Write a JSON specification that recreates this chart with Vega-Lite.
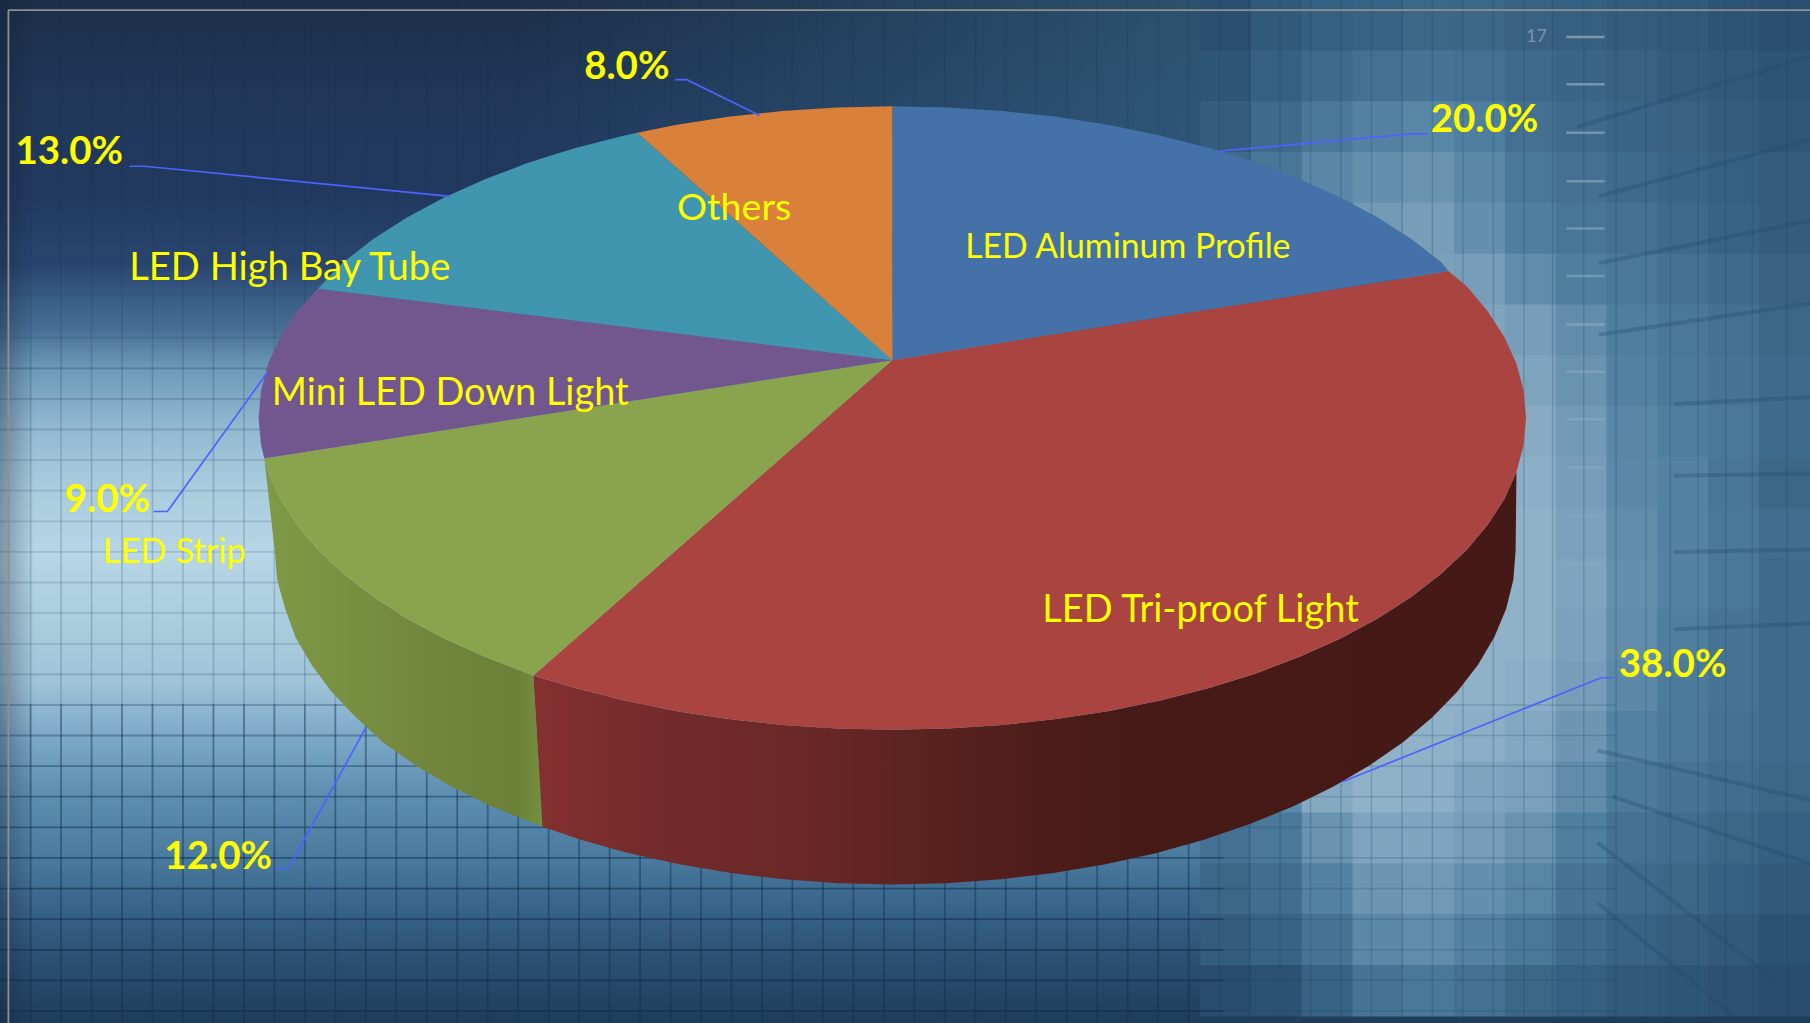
{"$schema":"https://vega.github.io/schema/vega-lite/v6.json","width":1810,"height":1023,"padding":0,"autosize":{"type":"none"},"background":"#2d5475","config":{"view":{"stroke":null},"axis":{"disable":true}},
"datasets":{
"panel":[{"panel":"background"}],
"cells":[
{"x":1062,"y":22,"tone":0.22},{"x":1106,"y":22,"tone":0.28},{"x":1150,"y":22,"tone":0.32},{"x":1194,"y":22,"tone":0.34},{"x":1238,"y":22,"tone":0.36},{"x":1282,"y":22,"tone":0.36},{"x":1326,"y":22,"tone":0.33},{"x":1370,"y":22,"tone":0.32},{"x":1414,"y":22,"tone":0.3},{"x":1458,"y":22,"tone":0.28},{"x":1502,"y":22,"tone":0.25},{"x":1546,"y":22,"tone":0.22},
{"x":1062,"y":66,"tone":0.26},{"x":1106,"y":66,"tone":0.32},{"x":1150,"y":66,"tone":0.38},{"x":1194,"y":66,"tone":0.42},{"x":1238,"y":66,"tone":0.44},{"x":1282,"y":66,"tone":0.42},{"x":1326,"y":66,"tone":0.38},{"x":1370,"y":66,"tone":0.35},{"x":1414,"y":66,"tone":0.33},{"x":1458,"y":66,"tone":0.3},{"x":1502,"y":66,"tone":0.28},{"x":1546,"y":66,"tone":0.25},
{"x":1062,"y":110,"tone":0.3},{"x":1106,"y":110,"tone":0.38},{"x":1150,"y":110,"tone":0.46},{"x":1194,"y":110,"tone":0.52},{"x":1238,"y":110,"tone":0.54},{"x":1282,"y":110,"tone":0.5},{"x":1326,"y":110,"tone":0.42},{"x":1370,"y":110,"tone":0.38},{"x":1414,"y":110,"tone":0.35},{"x":1458,"y":110,"tone":0.33},{"x":1502,"y":110,"tone":0.3},{"x":1546,"y":110,"tone":0.27},
{"x":1062,"y":154,"tone":0.38},{"x":1106,"y":154,"tone":0.45},{"x":1150,"y":154,"tone":0.55},{"x":1194,"y":154,"tone":0.6},{"x":1238,"y":154,"tone":0.62},{"x":1282,"y":154,"tone":0.56},{"x":1326,"y":154,"tone":0.46},{"x":1370,"y":154,"tone":0.42},{"x":1414,"y":154,"tone":0.38},{"x":1458,"y":154,"tone":0.35},{"x":1502,"y":154,"tone":0.32},{"x":1546,"y":154,"tone":0.3},
{"x":1194,"y":198,"tone":0.66},{"x":1238,"y":198,"tone":0.68},{"x":1282,"y":198,"tone":0.6},{"x":1326,"y":198,"tone":0.5},{"x":1370,"y":198,"tone":0.45},{"x":1414,"y":198,"tone":0.42},{"x":1458,"y":198,"tone":0.38},{"x":1502,"y":198,"tone":0.34},{"x":1546,"y":198,"tone":0.3},
{"x":1238,"y":242,"tone":0.7},{"x":1282,"y":242,"tone":0.68},{"x":1326,"y":242,"tone":0.58},{"x":1370,"y":242,"tone":0.5},{"x":1414,"y":242,"tone":0.46},{"x":1458,"y":242,"tone":0.42},{"x":1502,"y":242,"tone":0.38},{"x":1546,"y":242,"tone":0.33},
{"x":1282,"y":286,"tone":0.72},{"x":1326,"y":286,"tone":0.68},{"x":1370,"y":286,"tone":0.58},{"x":1414,"y":286,"tone":0.5},{"x":1458,"y":286,"tone":0.46},{"x":1502,"y":286,"tone":0.42},{"x":1546,"y":286,"tone":0.36},
{"x":1326,"y":330,"tone":0.72},{"x":1370,"y":330,"tone":0.62},{"x":1414,"y":330,"tone":0.52},{"x":1458,"y":330,"tone":0.47},{"x":1502,"y":330,"tone":0.44},{"x":1546,"y":330,"tone":0.38},
{"x":1326,"y":374,"tone":0.76},{"x":1370,"y":374,"tone":0.66},{"x":1414,"y":374,"tone":0.55},{"x":1458,"y":374,"tone":0.5},{"x":1502,"y":374,"tone":0.46},{"x":1546,"y":374,"tone":0.38},
{"x":1326,"y":418,"tone":0.78},{"x":1370,"y":418,"tone":0.68},{"x":1414,"y":418,"tone":0.56},{"x":1458,"y":418,"tone":0.52},{"x":1502,"y":418,"tone":0.45},{"x":1546,"y":418,"tone":0.36},
{"x":1326,"y":462,"tone":0.8},{"x":1370,"y":462,"tone":0.7},{"x":1414,"y":462,"tone":0.58},{"x":1458,"y":462,"tone":0.52},{"x":1502,"y":462,"tone":0.46},{"x":1546,"y":462,"tone":0.4},
{"x":1326,"y":506,"tone":0.8},{"x":1370,"y":506,"tone":0.72},{"x":1414,"y":506,"tone":0.6},{"x":1458,"y":506,"tone":0.52},{"x":1502,"y":506,"tone":0.46},{"x":1546,"y":506,"tone":0.38},
{"x":1282,"y":550,"tone":0.8},{"x":1326,"y":550,"tone":0.8},{"x":1370,"y":550,"tone":0.7},{"x":1414,"y":550,"tone":0.58},{"x":1458,"y":550,"tone":0.5},{"x":1502,"y":550,"tone":0.44},{"x":1546,"y":550,"tone":0.38},
{"x":1238,"y":594,"tone":0.8},{"x":1282,"y":594,"tone":0.8},{"x":1326,"y":594,"tone":0.78},{"x":1370,"y":594,"tone":0.68},{"x":1414,"y":594,"tone":0.56},{"x":1458,"y":594,"tone":0.48},{"x":1502,"y":594,"tone":0.44},{"x":1546,"y":594,"tone":0.38},
{"x":1194,"y":638,"tone":0.8},{"x":1238,"y":638,"tone":0.8},{"x":1282,"y":638,"tone":0.78},{"x":1326,"y":638,"tone":0.74},{"x":1370,"y":638,"tone":0.64},{"x":1414,"y":638,"tone":0.52},{"x":1458,"y":638,"tone":0.47},{"x":1502,"y":638,"tone":0.42},{"x":1546,"y":638,"tone":0.38},
{"x":1150,"y":682,"tone":0.75},{"x":1194,"y":682,"tone":0.8},{"x":1238,"y":682,"tone":0.78},{"x":1282,"y":682,"tone":0.72},{"x":1326,"y":682,"tone":0.7},{"x":1370,"y":682,"tone":0.58},{"x":1414,"y":682,"tone":0.47},{"x":1458,"y":682,"tone":0.44},{"x":1502,"y":682,"tone":0.4},{"x":1546,"y":682,"tone":0.36},
{"x":1062,"y":726,"tone":0.42},{"x":1106,"y":726,"tone":0.46},{"x":1150,"y":726,"tone":0.62},{"x":1194,"y":726,"tone":0.72},{"x":1238,"y":726,"tone":0.72},{"x":1282,"y":726,"tone":0.68},{"x":1326,"y":726,"tone":0.62},{"x":1370,"y":726,"tone":0.5},{"x":1414,"y":726,"tone":0.42},{"x":1458,"y":726,"tone":0.4},{"x":1502,"y":726,"tone":0.36},{"x":1546,"y":726,"tone":0.32},
{"x":1062,"y":770,"tone":0.36},{"x":1106,"y":770,"tone":0.4},{"x":1150,"y":770,"tone":0.52},{"x":1194,"y":770,"tone":0.64},{"x":1238,"y":770,"tone":0.66},{"x":1282,"y":770,"tone":0.6},{"x":1326,"y":770,"tone":0.54},{"x":1370,"y":770,"tone":0.44},{"x":1414,"y":770,"tone":0.38},{"x":1458,"y":770,"tone":0.36},{"x":1502,"y":770,"tone":0.32},{"x":1546,"y":770,"tone":0.28},
{"x":1062,"y":814,"tone":0.3},{"x":1106,"y":814,"tone":0.34},{"x":1150,"y":814,"tone":0.44},{"x":1194,"y":814,"tone":0.56},{"x":1238,"y":814,"tone":0.58},{"x":1282,"y":814,"tone":0.52},{"x":1326,"y":814,"tone":0.46},{"x":1370,"y":814,"tone":0.38},{"x":1414,"y":814,"tone":0.34},{"x":1458,"y":814,"tone":0.31},{"x":1502,"y":814,"tone":0.28},{"x":1546,"y":814,"tone":0.24},
{"x":1062,"y":858,"tone":0.2},{"x":1106,"y":858,"tone":0.24},{"x":1150,"y":858,"tone":0.34},{"x":1194,"y":858,"tone":0.44},{"x":1238,"y":858,"tone":0.46},{"x":1282,"y":858,"tone":0.42},{"x":1326,"y":858,"tone":0.36},{"x":1370,"y":858,"tone":0.32},{"x":1414,"y":858,"tone":0.28},{"x":1458,"y":858,"tone":0.26},{"x":1502,"y":858,"tone":0.23},{"x":1546,"y":858,"tone":0.2}
],
"gridX":[{"x":26.5},{"x":52.9},{"x":79.3},{"x":105.7},{"x":132.1},{"x":158.5},{"x":184.9},{"x":211.3},{"x":237.7},{"x":264.1},{"x":290.5},{"x":316.9},{"x":343.3},{"x":369.7},{"x":396.1},{"x":422.5},{"x":448.9},{"x":475.3},{"x":501.7},{"x":528.1},{"x":554.5},{"x":580.9},{"x":607.3},{"x":633.7},{"x":660.1},{"x":686.5},{"x":712.9},{"x":739.3},{"x":765.7},{"x":792.1},{"x":818.5},{"x":844.9},{"x":871.3},{"x":897.7},{"x":924.1},{"x":950.5},{"x":976.9},{"x":1003.3},{"x":1029.7},{"x":1056.1},{"x":1082.5},{"x":1108.9},{"x":1135.3},{"x":1161.7},{"x":1188.1},{"x":1214.5},{"x":1240.9},{"x":1267.3},{"x":1293.7},{"x":1320.1},{"x":1345},{"x":1372},{"x":1400},{"x":1426},{"x":1447},{"x":1471},{"x":1495},{"x":1518},{"x":1548}],
"gridY":[{"y":292.5,"strength":0.12},{"y":319,"strength":0.28},{"y":345.5,"strength":0.2},{"y":372,"strength":0.18},{"y":398.5,"strength":0.15},{"y":425,"strength":0.15},{"y":451.5,"strength":0.14},{"y":478,"strength":0.14},{"y":504.5,"strength":0.15},{"y":531,"strength":0.15},{"y":557.6,"strength":0.16},{"y":584,"strength":0.2},{"y":610.6,"strength":0.28},{"y":637,"strength":0.35},{"y":663.6,"strength":0.42},{"y":690,"strength":0.48},{"y":716.6,"strength":0.52},{"y":743,"strength":0.58},{"y":769.6,"strength":0.6},{"y":796,"strength":0.62},{"y":822.6,"strength":0.65},{"y":849,"strength":0.65},{"y":875.6,"strength":0.6},{"y":255,"strength":0.12},{"y":228,"strength":0.12},{"y":200,"strength":0.1},{"y":172,"strength":0.1}],
"scaleTicks":[{"y":32,"strength":0.42},{"y":73,"strength":0.38},{"y":115,"strength":0.34},{"y":157,"strength":0.3},{"y":198,"strength":0.28},{"y":239,"strength":0.26},{"y":281,"strength":0.24},{"y":322,"strength":0.16},{"y":363,"strength":0.12},{"y":405,"strength":0.1},{"y":447,"strength":0.08},{"y":488,"strength":0.06},{"y":530,"strength":0.05},{"y":572,"strength":0.05}],
"streaks":[{"x":1366,"y":110,"xe":1568,"ye":49},{"x":1385,"y":170,"xe":1568,"ye":121},{"x":1385,"y":228,"xe":1568,"ye":191},{"x":1385,"y":290,"xe":1568,"ye":263},{"x":1450,"y":350,"xe":1568,"ye":344},{"x":1450,"y":412,"xe":1568,"ye":410},{"x":1450,"y":478,"xe":1568,"ye":476},{"x":1450,"y":545,"xe":1568,"ye":540},{"x":1384,"y":650,"xe":1568,"ye":693},{"x":1397,"y":690,"xe":1568,"ye":748},{"x":1384,"y":730,"xe":1542,"ye":852},{"x":1384,"y":782,"xe":1502,"ye":880}],
"sideRed":[{"i":0,"x":1313.7,"y":408.9},{"i":1,"x":1303.3,"y":431.9},{"i":2,"x":1288.9,"y":454.3},{"i":3,"x":1270.6,"y":476.1},{"i":4,"x":1248.4,"y":497},{"i":5,"x":1222.7,"y":516.9},{"i":6,"x":1193.5,"y":535.6},{"i":7,"x":1161.2,"y":552.9},{"i":8,"x":1125.9,"y":568.8},{"i":9,"x":1087.9,"y":583.2},{"i":10,"x":1047.5,"y":595.8},{"i":11,"x":1005,"y":606.7},{"i":12,"x":960.8,"y":615.7},{"i":13,"x":915.1,"y":622.8},{"i":14,"x":868.3,"y":627.9},{"i":15,"x":820.9,"y":631},{"i":16,"x":773,"y":632},{"i":17,"x":725.1,"y":631},{"i":18,"x":677.7,"y":627.9},{"i":19,"x":630.9,"y":622.8},{"i":20,"x":585.2,"y":615.7},{"i":21,"x":541,"y":606.7},{"i":22,"x":498.5,"y":595.8},{"i":23,"x":462,"y":585},{"i":24,"x":470,"y":716},{"i":25,"x":503,"y":727.3},{"i":26,"x":544.8,"y":738.9},{"i":27,"x":588.3,"y":748.6},{"i":28,"x":633.2,"y":756.1},{"i":29,"x":679.3,"y":761.6},{"i":30,"x":725.9,"y":764.9},{"i":31,"x":773,"y":766},{"i":32,"x":820.1,"y":764.9},{"i":33,"x":866.7,"y":761.6},{"i":34,"x":912.8,"y":756.1},{"i":35,"x":957.7,"y":748.6},{"i":36,"x":1001.2,"y":738.9},{"i":37,"x":1043,"y":727.3},{"i":38,"x":1082.7,"y":713.7},{"i":39,"x":1120.1,"y":698.4},{"i":40,"x":1154.8,"y":681.4},{"i":41,"x":1186.6,"y":662.8},{"i":42,"x":1215.4,"y":642.8},{"i":43,"x":1240.6,"y":621.5},{"i":44,"x":1262.4,"y":599.1},{"i":45,"x":1280.4,"y":575.8},{"i":46,"x":1294.6,"y":551.8},{"i":47,"x":1304.8,"y":527.2},{"i":48,"x":1311,"y":502.2},{"i":49,"x":1313,"y":477}],
"sideGreen":[{"i":0,"x":229,"y":397},{"i":1,"x":232.3,"y":408.9},{"i":2,"x":242.7,"y":431.9},{"i":3,"x":257.1,"y":454.3},{"i":4,"x":275.4,"y":476.1},{"i":5,"x":297.6,"y":497},{"i":6,"x":323.3,"y":516.9},{"i":7,"x":352.5,"y":535.6},{"i":8,"x":384.8,"y":552.9},{"i":9,"x":420.1,"y":568.8},{"i":10,"x":462,"y":585},{"i":11,"x":470,"y":716},{"i":12,"x":425.9,"y":698.4},{"i":13,"x":391.2,"y":681.4},{"i":14,"x":360,"y":663},{"i":15,"x":332,"y":643},{"i":16,"x":308,"y":621},{"i":17,"x":287,"y":599},{"i":18,"x":270,"y":576},{"i":19,"x":256,"y":552},{"i":20,"x":247,"y":527},{"i":21,"x":240,"y":502},{"i":22,"x":238,"y":477}],
"faces":[
{"slice":"LED Aluminum Profile","i":0,"x":773,"y":312},{"slice":"LED Aluminum Profile","i":1,"x":773,"y":92},{"slice":"LED Aluminum Profile","i":2,"x":820.9,"y":93},{"slice":"LED Aluminum Profile","i":3,"x":868.3,"y":96.1},{"slice":"LED Aluminum Profile","i":4,"x":915.1,"y":101.2},{"slice":"LED Aluminum Profile","i":5,"x":960.8,"y":108.3},{"slice":"LED Aluminum Profile","i":6,"x":1005,"y":117.3},{"slice":"LED Aluminum Profile","i":7,"x":1047.5,"y":128.2},{"slice":"LED Aluminum Profile","i":8,"x":1087.9,"y":140.8},{"slice":"LED Aluminum Profile","i":9,"x":1125.9,"y":155.2},{"slice":"LED Aluminum Profile","i":10,"x":1161.2,"y":171.1},{"slice":"LED Aluminum Profile","i":11,"x":1193.5,"y":188.4},{"slice":"LED Aluminum Profile","i":12,"x":1222.7,"y":207.1},{"slice":"LED Aluminum Profile","i":13,"x":1248.4,"y":227},{"slice":"LED Aluminum Profile","i":14,"x":1255,"y":235},
{"slice":"LED Tri-proof Light","i":0,"x":773,"y":312},{"slice":"LED Tri-proof Light","i":1,"x":1255,"y":235},{"slice":"LED Tri-proof Light","i":2,"x":1270.6,"y":247.9},{"slice":"LED Tri-proof Light","i":3,"x":1288.9,"y":269.7},{"slice":"LED Tri-proof Light","i":4,"x":1303.3,"y":292.1},{"slice":"LED Tri-proof Light","i":5,"x":1313.7,"y":315.1},{"slice":"LED Tri-proof Light","i":6,"x":1319.9,"y":338.5},{"slice":"LED Tri-proof Light","i":7,"x":1322,"y":362},{"slice":"LED Tri-proof Light","i":8,"x":1319.9,"y":385.5},{"slice":"LED Tri-proof Light","i":9,"x":1313.7,"y":408.9},{"slice":"LED Tri-proof Light","i":10,"x":1303.3,"y":431.9},{"slice":"LED Tri-proof Light","i":11,"x":1288.9,"y":454.3},{"slice":"LED Tri-proof Light","i":12,"x":1270.6,"y":476.1},{"slice":"LED Tri-proof Light","i":13,"x":1248.4,"y":497},{"slice":"LED Tri-proof Light","i":14,"x":1222.7,"y":516.9},{"slice":"LED Tri-proof Light","i":15,"x":1193.5,"y":535.6},{"slice":"LED Tri-proof Light","i":16,"x":1161.2,"y":552.9},{"slice":"LED Tri-proof Light","i":17,"x":1125.9,"y":568.8},{"slice":"LED Tri-proof Light","i":18,"x":1087.9,"y":583.2},{"slice":"LED Tri-proof Light","i":19,"x":1047.5,"y":595.8},{"slice":"LED Tri-proof Light","i":20,"x":1005,"y":606.7},{"slice":"LED Tri-proof Light","i":21,"x":960.8,"y":615.7},{"slice":"LED Tri-proof Light","i":22,"x":915.1,"y":622.8},{"slice":"LED Tri-proof Light","i":23,"x":868.3,"y":627.9},{"slice":"LED Tri-proof Light","i":24,"x":820.9,"y":631},{"slice":"LED Tri-proof Light","i":25,"x":773,"y":632},{"slice":"LED Tri-proof Light","i":26,"x":725.1,"y":631},{"slice":"LED Tri-proof Light","i":27,"x":677.7,"y":627.9},{"slice":"LED Tri-proof Light","i":28,"x":630.9,"y":622.8},{"slice":"LED Tri-proof Light","i":29,"x":585.2,"y":615.7},{"slice":"LED Tri-proof Light","i":30,"x":541,"y":606.7},{"slice":"LED Tri-proof Light","i":31,"x":498.5,"y":595.8},{"slice":"LED Tri-proof Light","i":32,"x":462,"y":585},
{"slice":"LED Strip","i":0,"x":773,"y":312},{"slice":"LED Strip","i":1,"x":462,"y":585},{"slice":"LED Strip","i":2,"x":420.1,"y":568.8},{"slice":"LED Strip","i":3,"x":384.8,"y":552.9},{"slice":"LED Strip","i":4,"x":352.5,"y":535.6},{"slice":"LED Strip","i":5,"x":323.3,"y":516.9},{"slice":"LED Strip","i":6,"x":297.6,"y":497},{"slice":"LED Strip","i":7,"x":275.4,"y":476.1},{"slice":"LED Strip","i":8,"x":257.1,"y":454.3},{"slice":"LED Strip","i":9,"x":242.7,"y":431.9},{"slice":"LED Strip","i":10,"x":232.3,"y":408.9},{"slice":"LED Strip","i":11,"x":229,"y":397},
{"slice":"Mini LED Down Light","i":0,"x":773,"y":312},{"slice":"Mini LED Down Light","i":1,"x":229,"y":397},{"slice":"Mini LED Down Light","i":2,"x":226.1,"y":385.5},{"slice":"Mini LED Down Light","i":3,"x":224,"y":362},{"slice":"Mini LED Down Light","i":4,"x":226.1,"y":338.5},{"slice":"Mini LED Down Light","i":5,"x":232.3,"y":315.1},{"slice":"Mini LED Down Light","i":6,"x":242.7,"y":292.1},{"slice":"Mini LED Down Light","i":7,"x":257.1,"y":269.7},{"slice":"Mini LED Down Light","i":8,"x":275.4,"y":250},
{"slice":"LED High Bay Tube","i":0,"x":773,"y":312},{"slice":"LED High Bay Tube","i":1,"x":275.4,"y":250},{"slice":"LED High Bay Tube","i":2,"x":297.6,"y":227},{"slice":"LED High Bay Tube","i":3,"x":323.3,"y":207.1},{"slice":"LED High Bay Tube","i":4,"x":352.5,"y":188.4},{"slice":"LED High Bay Tube","i":5,"x":384.8,"y":171.1},{"slice":"LED High Bay Tube","i":6,"x":420.1,"y":155.2},{"slice":"LED High Bay Tube","i":7,"x":458.1,"y":140.8},{"slice":"LED High Bay Tube","i":8,"x":498.5,"y":128.2},{"slice":"LED High Bay Tube","i":9,"x":541,"y":117.3},{"slice":"LED High Bay Tube","i":10,"x":552,"y":115},
{"slice":"Others","i":0,"x":773,"y":312},{"slice":"Others","i":1,"x":552,"y":115},{"slice":"Others","i":2,"x":585.2,"y":108.3},{"slice":"Others","i":3,"x":630.9,"y":101.2},{"slice":"Others","i":4,"x":677.7,"y":96.1},{"slice":"Others","i":5,"x":725.1,"y":93},{"slice":"Others","i":6,"x":773,"y":92}
],
"leaders":[
{"slice":"LED Aluminum Profile","i":0,"x":1055,"y":131},{"slice":"LED Aluminum Profile","i":1,"x":1222,"y":116},{"slice":"LED Aluminum Profile","i":2,"x":1237,"y":116},
{"slice":"Others","i":0,"x":585,"y":69},{"slice":"Others","i":1,"x":595,"y":69},{"slice":"Others","i":2,"x":658,"y":100},
{"slice":"LED High Bay Tube","i":0,"x":112,"y":144},{"slice":"LED High Bay Tube","i":1,"x":125,"y":144},{"slice":"LED High Bay Tube","i":2,"x":390,"y":170},
{"slice":"Mini LED Down Light","i":0,"x":133,"y":443},{"slice":"Mini LED Down Light","i":1,"x":145,"y":443},{"slice":"Mini LED Down Light","i":2,"x":232,"y":322},
{"slice":"LED Strip","i":0,"x":238,"y":752},{"slice":"LED Strip","i":1,"x":250,"y":752},{"slice":"LED Strip","i":2,"x":317,"y":630},
{"slice":"LED Tri-proof Light","i":0,"x":1163,"y":677},{"slice":"LED Tri-proof Light","i":1,"x":1387,"y":587},{"slice":"LED Tri-proof Light","i":2,"x":1398,"y":587}
],
"labels":[
{"slice":"LED Aluminum Profile","share":0.2,"px":1286,"py":104,"nx":977,"ny":215},
{"slice":"LED Tri-proof Light","share":0.38,"px":1449,"py":576,"nx":1040,"ny":529},
{"slice":"LED Strip","share":0.12,"px":189,"py":742,"nx":151,"ny":479},
{"slice":"Mini LED Down Light","share":0.09,"px":93,"py":433,"nx":390,"ny":341},
{"slice":"LED High Bay Tube","share":0.13,"px":60,"py":132,"nx":251,"ny":233},
{"slice":"Others","share":0.08,"px":543,"py":58,"nx":636,"ny":181}
]
},
"layer":[
{"data":{"name":"panel"},"mark":{"type":"rect","fill":{"gradient":"linear","x1":0,"y1":0,"x2":0,"y2":1,"stops":[{"offset":0,"color":"#1c2f49"},{"offset":0.11,"color":"#20385a"},{"offset":0.19,"color":"#22395f"},{"offset":0.26,"color":"#2a4670"},{"offset":0.295,"color":"#3a5f88"},{"offset":0.322,"color":"#476f95"},{"offset":0.36,"color":"#6d9ab8"},{"offset":0.418,"color":"#93b9d1"},{"offset":0.474,"color":"#a9cbdd"},{"offset":0.542,"color":"#b7d6e6"},{"offset":0.61,"color":"#aaccdd"},{"offset":0.666,"color":"#a0c4d8"},{"offset":0.722,"color":"#7ba8c6"},{"offset":0.779,"color":"#5c8eb0"},{"offset":0.835,"color":"#4b7ca0"},{"offset":0.892,"color":"#386188"},{"offset":0.937,"color":"#2c5073"},{"offset":1,"color":"#1f3d5a"}]}},"encoding":{"x":{"datum":0,"type":"quantitative","scale":{"domain":[0,1568],"nice":false,"zero":false}},"x2":{"datum":1568},"y":{"datum":0,"type":"quantitative","scale":{"domain":[886,0],"nice":false,"zero":false}},"y2":{"datum":886}}},
{"data":{"name":"panel"},"mark":{"type":"rect","fill":{"gradient":"linear","x1":0,"y1":0,"x2":1,"y2":0,"stops":[{"offset":0,"color":"rgba(60,110,140,0)"},{"offset":1,"color":"rgba(60,115,145,0.5)"}]}},"encoding":{"x":{"datum":450,"type":"quantitative"},"x2":{"datum":1040},"y":{"datum":0,"type":"quantitative"},"y2":{"datum":200}}},
{"data":{"name":"panel"},"mark":{"type":"rect","fill":{"gradient":"linear","x1":0,"y1":0,"x2":1,"y2":0,"stops":[{"offset":0,"color":"rgba(15,30,50,0.35)"},{"offset":1,"color":"rgba(15,30,50,0)"}]}},"encoding":{"x":{"datum":0,"type":"quantitative"},"x2":{"datum":30},"y":{"datum":0,"type":"quantitative"},"y2":{"datum":886}}},
{"data":{"name":"cells"},"mark":{"type":"rect","width":51.5,"height":51.5},"encoding":{"x":{"field":"x","type":"quantitative"},"y":{"field":"y","type":"quantitative"},"color":{"field":"tone","type":"quantitative","scale":{"domain":[0,0.25,0.5,0.75,1],"range":["#1c2f4b","#2d5475","#4f7f9f","#86a9c2","#b8d6e6"]},"legend":null}}},
{"data":{"name":"streaks"},"mark":{"type":"rule","stroke":"#1d4a72","strokeWidth":4,"opacity":0.3},"encoding":{"x":{"field":"x","type":"quantitative"},"y":{"field":"y","type":"quantitative"},"x2":{"field":"xe"},"y2":{"field":"ye"}}},
{"data":{"name":"gridX"},"transform":[{"filter":"datum.x < 1040"}],"mark":{"type":"rule","stroke":"#12304f","strokeWidth":1.6,"opacity":0.16},"encoding":{"x":{"field":"x","type":"quantitative"},"y":{"datum":0,"type":"quantitative"},"y2":{"datum":300}}},
{"data":{"name":"gridX"},"transform":[{"filter":"datum.x < 1040"}],"mark":{"type":"rule","stroke":"#12304f","strokeWidth":1.6,"opacity":0.2},"encoding":{"x":{"field":"x","type":"quantitative"},"y":{"datum":300,"type":"quantitative"},"y2":{"datum":610}}},
{"data":{"name":"gridX"},"transform":[{"filter":"datum.x < 1040"}],"mark":{"type":"rule","stroke":"#12304f","strokeWidth":1.8,"opacity":0.48},"encoding":{"x":{"field":"x","type":"quantitative"},"y":{"datum":610,"type":"quantitative"},"y2":{"datum":886}}},
{"data":{"name":"gridX"},"transform":[{"filter":"datum.x >= 1040"}],"mark":{"type":"rule","stroke":"#17405f","strokeWidth":1.5,"opacity":0.22},"encoding":{"x":{"field":"x","type":"quantitative"},"y":{"datum":0,"type":"quantitative"},"y2":{"datum":886}}},
{"data":{"name":"gridY"},"mark":{"type":"rule","stroke":"#12304f","strokeWidth":1.8},"encoding":{"y":{"field":"y","type":"quantitative"},"x":{"datum":0,"type":"quantitative"},"x2":{"datum":1060},"opacity":{"field":"strength","type":"quantitative","scale":{"domain":[0,1],"range":[0,1]},"legend":null}}},
{"data":{"name":"gridY"},"transform":[{"filter":"datum.y > 600"}],"mark":{"type":"rule","stroke":"#17405f","strokeWidth":1.6,"opacity":0.2},"encoding":{"y":{"field":"y","type":"quantitative"},"x":{"datum":1060,"type":"quantitative"},"x2":{"datum":1400}}},
{"data":{"name":"scaleTicks"},"mark":{"type":"rule","stroke":"#dbe8ef","strokeWidth":2.5},"encoding":{"y":{"field":"y","type":"quantitative"},"x":{"datum":1357,"type":"quantitative"},"x2":{"datum":1390},"opacity":{"field":"strength","type":"quantitative","scale":{"domain":[0,1],"range":[0,1]},"legend":null}}},
{"data":{"values":[{"tick":"17","x":1331,"y":32}]},"mark":{"type":"text","font":"Lato","fontSize":18,"fill":"#c3d3dd","opacity":0.45},"encoding":{"x":{"field":"x","type":"quantitative"},"y":{"field":"y","type":"quantitative"},"text":{"field":"tick"}}},
{"data":{"name":"panel"},"mark":{"type":"rule","stroke":"#8f8f8f","strokeWidth":1.8},"encoding":{"x":{"datum":7,"type":"quantitative"},"x2":{"datum":1568},"y":{"datum":8.7,"type":"quantitative"}}},
{"data":{"name":"panel"},"mark":{"type":"rule","stroke":"#8f8f8f","strokeWidth":1.8},"encoding":{"x":{"datum":7.3,"type":"quantitative"},"y":{"datum":8.7,"type":"quantitative"},"y2":{"datum":886}}},
{"data":{"name":"sideGreen"},"mark":{"type":"line","stroke":null,"strokeWidth":0,"fill":{"gradient":"linear","x1":0,"y1":0,"x2":1,"y2":0,"stops":[{"offset":0,"color":"#7f9a45"},{"offset":0.5,"color":"#74893f"},{"offset":0.9,"color":"#6b7f37"},{"offset":1,"color":"#759040"}]}},"encoding":{"x":{"field":"x","type":"quantitative"},"y":{"field":"y","type":"quantitative"},"order":{"field":"i","type":"quantitative"}}},
{"data":{"name":"sideRed"},"mark":{"type":"line","stroke":null,"strokeWidth":0,"fill":{"gradient":"linear","x1":0,"y1":0,"x2":1,"y2":0,"stops":[{"offset":0,"color":"#853030"},{"offset":0.12,"color":"#742b2b"},{"offset":0.3,"color":"#672725"},{"offset":0.45,"color":"#541f1c"},{"offset":0.6,"color":"#461a16"},{"offset":1,"color":"#451a16"}]}},"encoding":{"x":{"field":"x","type":"quantitative"},"y":{"field":"y","type":"quantitative"},"order":{"field":"i","type":"quantitative"}}},
{"data":{"name":"faces"},"mark":{"type":"line","stroke":null,"strokeWidth":0},"encoding":{"x":{"field":"x","type":"quantitative"},"y":{"field":"y","type":"quantitative"},"fill":{"field":"slice","type":"nominal","scale":{"domain":["LED Aluminum Profile","LED Tri-proof Light","LED Strip","Mini LED Down Light","LED High Bay Tube","Others"],"range":["#4472a8","#a94440","#89a44c","#72578e","#4096ae","#d9803a"]},"legend":null},"detail":{"field":"slice"},"order":{"field":"i","type":"quantitative"}}},
{"data":{"name":"leaders"},"mark":{"type":"line","stroke":"#4d62ff","strokeWidth":1.7},"encoding":{"x":{"field":"x","type":"quantitative"},"y":{"field":"y","type":"quantitative"},"detail":{"field":"slice"},"order":{"field":"i","type":"quantitative"}}},
{"data":{"name":"labels"},"mark":{"type":"text","font":"Lato","fontWeight":"bold","fontSize":38.5,"fill":"#ffff00","align":"center","baseline":"middle"},"encoding":{"x":{"field":"px","type":"quantitative"},"y":{"field":"py","type":"quantitative"},"text":{"field":"share","type":"quantitative","format":".1%"}}},
{"data":{"name":"labels"},"mark":{"type":"text","font":"Lato","fill":"#ffff00","align":"center","baseline":"middle"},"encoding":{"x":{"field":"nx","type":"quantitative"},"y":{"field":"ny","type":"quantitative"},"text":{"field":"slice"},"size":{"field":"slice","type":"ordinal","scale":{"type":"ordinal","domain":["LED Aluminum Profile","LED Tri-proof Light","LED Strip","Mini LED Down Light","LED High Bay Tube","Others"],"range":[33.8,38,34.5,37.9,38.2,37.6]},"legend":null}}}
]}
